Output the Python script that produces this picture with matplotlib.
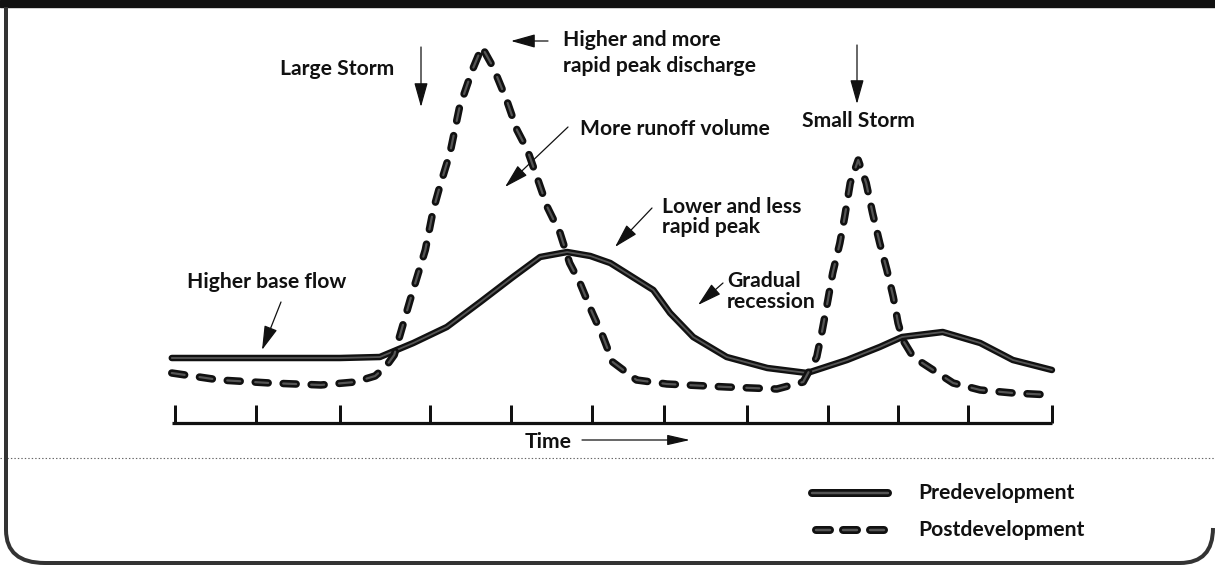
import matplotlib
matplotlib.use('Agg')
import matplotlib.pyplot as plt
from matplotlib.patches import Rectangle, PathPatch
from matplotlib.path import Path

plt.rcParams['lines.scale_dashes'] = False
plt.rcParams['font.family'] = ['Lato', 'DejaVu Sans']

# ---------------- data (time units, discharge units) ----------------
time_ticks = [0, 1.02, 2.07, 3.20, 4.21, 5.23, 6.13, 7.17, 8.19, 9.07, 9.95, 11.0]

pre_time = [-0.04, 1.07, 2.07, 2.57, 2.99, 3.41, 3.83, 4.24, 4.58, 4.92, 5.21, 5.46,
            6.00, 6.21, 6.50, 6.92, 7.43, 7.93, 8.43, 8.84, 9.12, 9.63, 10.10, 10.51, 11.00]
pre_q = [6.5, 6.5, 6.5, 6.6, 8.0, 9.6, 12.1, 14.6, 16.6, 17.1, 16.7, 16.0,
         13.3, 11.0, 8.6, 6.6, 5.5, 5.0, 6.3, 7.6, 8.6, 9.1, 8.0, 6.3, 5.3]

post_time = [-0.04, 0.56, 1.19, 1.83, 2.26, 2.51, 2.65, 2.75, 2.95, 3.14, 3.24, 3.32,
             3.45, 3.57, 3.73, 3.85, 3.99, 4.16, 4.29, 4.42, 4.54, 4.67, 4.83, 4.95,
             5.08, 5.23, 5.37, 5.49, 5.79, 6.17, 6.92, 7.55, 7.88, 8.05, 8.12, 8.19,
             8.25, 8.34, 8.40, 8.47, 8.57, 8.67, 8.75, 8.84, 8.93, 9.01, 9.07, 9.13,
             9.26, 9.51, 9.76, 10.10, 10.51, 11.00]
post_q = [5.0, 4.3, 4.0, 3.8, 4.1, 4.7, 5.7, 6.8, 12.3, 17.3, 21.3, 23.6,
          27.0, 31.6, 35.3, 37.6, 35.6, 32.3, 29.3, 27.3, 24.6, 21.6, 19.0, 16.0,
          14.0, 11.1, 8.6, 6.1, 4.3, 3.9, 3.6, 3.4, 4.1, 6.6, 9.3, 12.3,
          15.0, 18.0, 20.6, 24.0, 26.3, 24.0, 21.0, 18.0, 15.3, 12.6, 10.0, 8.3,
          6.6, 5.3, 4.0, 3.3, 3.0, 2.8]

series_labels = ['Predevelopment', 'Postdevelopment']
axis_label = 'Time'

annotations = [
    # text lines, x, baseline y, arrow start, arrow tip  (figure pixel positions)
    (['Large Storm'], 280, [75], (421, 47), (421, 107)),
    (['Higher and more', 'rapid peak discharge'], 563, [46, 72], (548, 41), (511, 41)),
    (['More runoff volume'], 580, [135], (568, 127), (505, 187)),
    (['Lower and less', 'rapid peak'], 662, [213, 233], (652, 208), (615, 247)),
    (['Gradual', 'recession'], 727, [287, 308], (723, 283), (698, 305)),
    (['Small Storm'], 802, [127], (857, 45), (857, 104)),
    (['Higher base flow'], 187, [288], (281, 302), (262, 350)),
]

# ---------------- figure ----------------
W, H = 1215, 566
PT = 0.72  # points per pixel at 100 dpi
fig = plt.figure(figsize=(W / 100, H / 100), dpi=100)
fig.patch.set_facecolor('white')

ov = fig.add_axes([0, 0, 1, 1])
ov.set_xlim(0, W)
ov.set_ylim(H, 0)
ov.axis('off')

ax = fig.add_axes([135.1 / W, (566 - 443) / H, 956.7 / W, 420 / H])
ax.set_xlim(-0.5, 11.5)
ax.set_ylim(-2, 40)
ax.axis('off')
ax.patch.set_alpha(0)

DARK = '#111111'
INNER = '#555555'


def styled_line(a, x, y, lw_px, inner_px, dashes_px=None, z=3):
    kw = dict(solid_capstyle='round', dash_capstyle='round', solid_joinstyle='round')
    if dashes_px is not None:
        ls = (0, (dashes_px[0] * PT, dashes_px[1] * PT))
    else:
        ls = '-'
    a.plot(x, y, color=DARK, lw=lw_px * PT, ls=ls, zorder=z, **kw)
    a.plot(x, y, color=INNER, lw=inner_px * PT, ls=ls, zorder=z + 0.1, **kw)


# axis baseline and ticks
ax.plot([time_ticks[0] - 0.04, time_ticks[-1]], [0, 0], color=DARK, lw=3.2 * PT,
        solid_capstyle='butt', zorder=2)
ax.vlines(time_ticks, 0, 1.8, color=DARK, lw=3 * PT, zorder=2)

# hydrographs
styled_line(ax, pre_time, pre_q, 6.5, 1.8)
styled_line(ax, post_time, post_q, 7.5, 2.2, dashes_px=(13, 15), z=4)

# annotations
FS = 15.2
FW = 'bold'
for lines, x, ys, a0, a1 in annotations:
    for txt, yb in zip(lines, ys):
        ov.text(x, yb, txt, fontsize=FS, fontweight=FW, color='#111',
                ha='left', va='baseline')
    ov.annotate('', xy=a1, xytext=a0,
                arrowprops=dict(arrowstyle='-|>,head_length=15,head_width=4.2',
                                mutation_scale=1, lw=0.9, color='#111',
                                shrinkA=0, shrinkB=0))

# Time label with arrow
ov.text(525, 448, axis_label, fontsize=FS, fontweight=FW, color='#111',
        ha='left', va='baseline')
ov.annotate('', xy=(690, 440), xytext=(582, 440),
            arrowprops=dict(arrowstyle='-|>,head_length=14,head_width=3.2',
                            mutation_scale=1, lw=0.9, color='#111',
                            shrinkA=0, shrinkB=0))

# legend
styled_line(ov, [812, 888], [493, 493], 8, 2.5)
styled_line(ov, [816, 884], [530, 530], 8, 2.5, dashes_px=(14, 13))
ov.text(918, 499, series_labels[0], fontsize=FS, fontweight=FW, color='#111',
        ha='left', va='baseline')
ov.text(918, 536, series_labels[1], fontsize=FS, fontweight=FW, color='#111',
        ha='left', va='baseline')

# frame decorations
ov.add_patch(Rectangle((0, 0), W, 7, color='#111', zorder=5))
verts = [(6, 7), (6, 530), (6, 563), (45, 563), (1180, 563), (1213, 563), (1213, 528)]
codes = [Path.MOVETO, Path.LINETO, Path.CURVE3, Path.CURVE3, Path.LINETO,
         Path.CURVE3, Path.CURVE3]
ov.add_patch(PathPatch(Path(verts, codes), fill=False, lw=4 * PT, ec='#333',
                       zorder=5))
ov.plot([0, W], [458, 458], color='#666', lw=0.8, ls=(0, (1, 1.5)), zorder=1)

fig.savefig('out.png', dpi=100, facecolor='white')
